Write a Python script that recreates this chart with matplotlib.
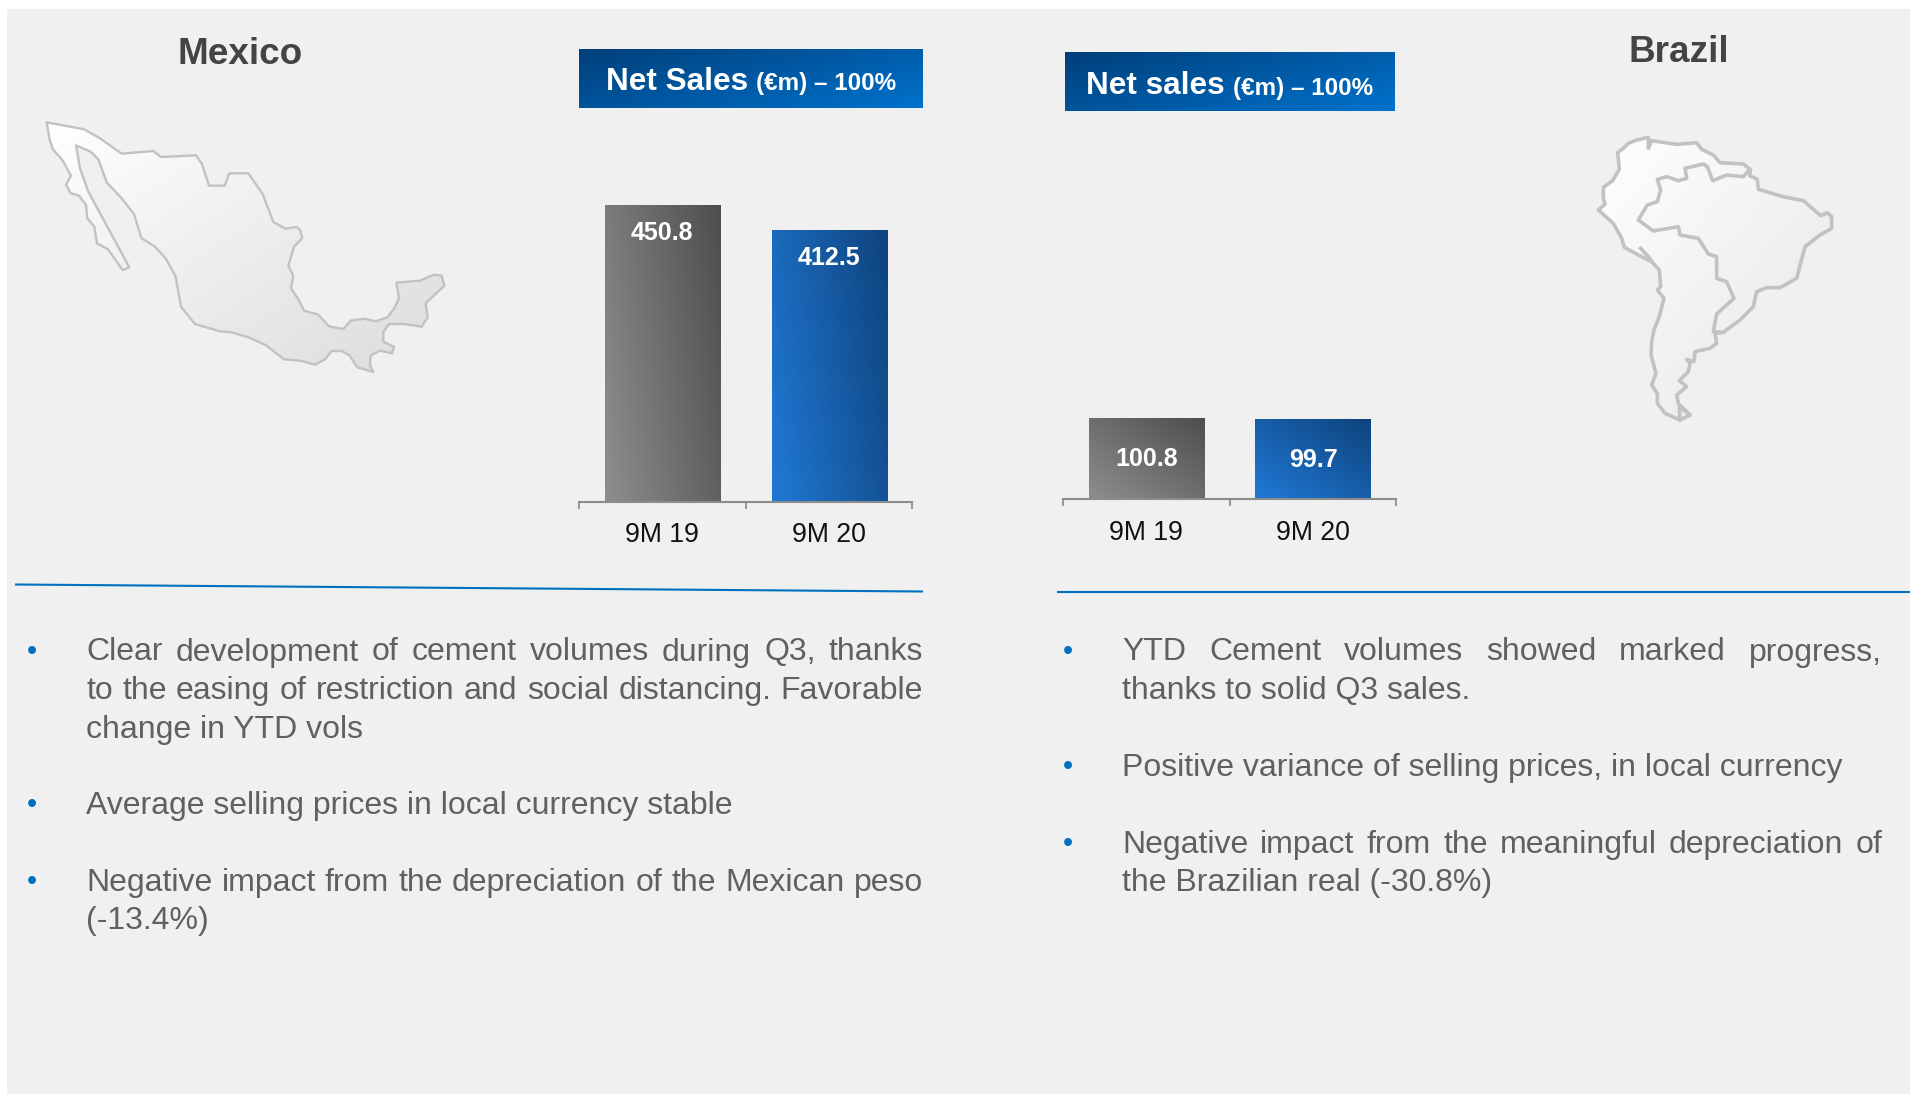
#!/usr/bin/env python3
# -*- coding: utf-8 -*-
import numpy as np
import matplotlib
matplotlib.use('Agg')
import matplotlib.pyplot as plt
from matplotlib.colors import LinearSegmentedColormap
from matplotlib.patches import Polygon, Rectangle

W, H = 1910, 1095
plt.rcParams['font.family'] = ['Liberation Sans', 'DejaVu Sans']

# data
periods = ['9M 19', '9M 20']
mexico_sales = [450.8, 412.5]
brazil_sales = [100.8, 99.7]

mexico_bullets = [
    ['Clear development of cement volumes during Q3, thanks',
     'to the easing of restriction and social distancing. Favorable',
     'change in YTD vols'],
    ['Average selling prices in local currency stable'],
    ['Negative impact from the depreciation of the Mexican peso',
     '(-13.4%)'],
]
brazil_bullets = [
    ['YTD Cement volumes showed marked progress,',
     'thanks to solid Q3 sales.'],
    ['Positive variance of selling prices, in local currency'],
    ['Negative impact from the meaningful depreciation of',
     'the Brazilian real (-30.8%)'],
]
# baselines of each text line (px)
mexico_baselines = [[660.5, 699, 738], [814], [891, 929]]
brazil_baselines = [[660.5, 699], [776], [853, 891]]

# map outlines, traced at 3x
mexico_outline = [(140,127),(253,148),(300,175),(365,221),(460,213),(483,231),(588,226),(606,252),
    (627,317),(674,317),(688,280),(745,280),(788,342),(820,426),(857,446),(890,441),(900,450),
    (907,474),(882,500),(865,557),(880,588),(873,625),(895,658),(912,692),(955,704),(987,739),
    (1030,747),(1052,722),(1092,716),(1128,724),(1162,712),(1183,685),(1197,654),(1189,608),
    (1260,602),(1302,584),(1325,587),(1333,617),(1277,670),(1283,712),(1265,740),(1213,732),
    (1168,732),(1150,755),(1150,785),(1182,800),(1176,820),(1140,812),(1112,826),(1110,855),
    (1120,876),(1072,862),(1048,826),(1025,813),(995,813),(975,838),(945,854),(900,842),(852,838),
    (797,795),(745,772),(695,757),(660,754),(585,732),(543,680),(527,590),(497,535),(465,500),
    (424,474),(402,402),(365,355),(320,307),(295,238),(272,215),(228,196),(240,265),(265,335),
    (388,562),(368,570),(323,507),(291,490),(283,440),(262,415),(258,375),(237,347),(212,340),
    (198,314),(213,287),(187,240),(158,207),(148,175)]
samerica_outline = [(235,82),(200,90),(175,100),(160,115),(143,128),(148,178),(128,212),(100,232),
    (100,265),(105,282),(85,300),(130,340),(155,385),(163,412),(215,440),(245,455),(268,480),
    (272,530),(262,540),(282,565),(268,620),(252,660),(245,695),(243,735),(258,790),(245,825),
    (262,850),(262,880),(285,910),(330,930),(360,915),(335,890),(325,880),(320,855),(350,830),
    (328,812),(355,785),(360,760),(350,748),(372,755),(375,725),(420,715),(440,700),(435,670),
    (460,667),(510,630),(550,590),(560,545),(590,533),(630,533),(680,505),(705,410),(750,375),
    (785,355),(785,320),(772,308),(752,317),(700,272),(640,260),(565,238),(562,208),(540,198),
    (540,178),(520,162),(450,158),(430,135),(395,118),(380,98),(320,103),(245,92),(235,115)]
brazil_border = [(540,178),(520,200),(470,195),(428,212),(412,170),(400,162),(345,175),(350,205),
    (325,212),(290,200),(262,208),(272,240),(262,275),(232,285),(205,330),(250,363),(325,350),
    (330,375),(385,385),(415,432),(440,440),(440,505),(470,515),(492,565),(440,612),(430,665),(460,667)]
chile_sliver = [(212,415),(235,440),(250,460)]
fuego = [(330,930),(328,890),(360,915)]

PANEL = '#f0f0f0'
BLUE = '#0070c0'
BODY = '#5f6062'

gray_cmap = LinearSegmentedColormap.from_list('g', ['#8e8e8e', '#4e4e4e'])
blue_cmap = LinearSegmentedColormap.from_list('b', ['#2079d6', '#0e437c'])
head_cmap = LinearSegmentedColormap.from_list('h', ['#003f7a', '#0072cc'])


def grad(ax, x0, x1, y0, y1, cmap, kx, ky, clip, vmin=0, vmax=1):
    # diagonal fill, clipped by a patch. t grows from (x0,y0) to (x1,y1)
    xx, yy = np.meshgrid(np.linspace(0, 1, 120), np.linspace(0, 1, 120))
    t = kx*xx + ky*yy
    im = ax.imshow(t, extent=(x0, x1, y0, y1), origin='lower', cmap=cmap, vmin=vmin, vmax=vmax,
                   aspect='auto', zorder=clip.get_zorder(), interpolation='bilinear')
    im.set_clip_path(clip)


fig = plt.figure(figsize=(W/100, H/100), dpi=100, facecolor='white')
bg = fig.add_axes([0, 0, 1, 1])
bg.set_axis_off()
bg.add_patch(Rectangle((7, 9), W-7, 1085, fc=PANEL, ec='none', zorder=0))


def draw_map(outline, ox, oy, lw, k, extra=()):
    pts = np.array(outline)/3.0 + [ox, oy]
    poly = Polygon(pts, closed=True, fc='none', ec='#c2c2c2', lw=lw, joinstyle='round', zorder=3)
    bg.add_patch(poly)
    clip = Polygon(pts, closed=True, fc='none', ec='none', zorder=2)
    bg.add_patch(clip)
    grad(bg, pts[:, 0].min(), pts[:, 0].max(), pts[:, 1].min(), pts[:, 1].max(),
         LinearSegmentedColormap.from_list('m', ['#ffffff', k]), 0.5, 0.5, clip)
    for seg in extra:
        s = np.array(seg)/3.0 + [ox, oy]
        bg.plot(s[:, 0], s[:, 1], color='#c2c2c2', lw=lw, zorder=3, solid_joinstyle='round')


draw_map(mexico_outline, 0, 80, 1.7, '#dcdcdc')
draw_map(samerica_outline, 1570, 110, 2.6, '#e6e6e6', [brazil_border, chile_sliver, fuego])

# titles
bg.text(177, 64, 'Mexico', fontsize=26.6, fontweight='bold', color='#444444', zorder=5)
bg.text(1628, 62.5, 'Brazil', fontsize=26.6, fontweight='bold', color='#444444', zorder=5)


def header(x0, x1, y0, y1, tx, by, word, end):
    r = Rectangle((x0, y0), x1-x0, y1-y0, fc='none', ec='none', zorder=2)
    bg.add_patch(r)
    grad(bg, x0, x1, y0, y1, head_cmap, 0.6, 0.4, r)
    bg.text(tx, by, word, fontsize=22.7, fontweight='bold', color='white', zorder=5)
    bg.text(end, by, '(€m) – 100%', fontsize=17.5, fontweight='bold', color='white', ha='right', zorder=5)


header(579, 922.5, 49, 108, 606, 90, 'Net Sales', 896)
header(1065, 1395, 52, 111, 1086, 94.5, 'Net sales', 1373)

# separators
bg.plot([15, 923], [584.5, 591.5], color=BLUE, lw=1.5, solid_capstyle='butt', zorder=3)
bg.plot([1057, 1910], [591.5, 591.5], color=BLUE, lw=1.5, solid_capstyle='butt', zorder=3)

bg.set_xlim(0, W)
bg.set_ylim(H, 0)


def bar_panel(left, right, base, px_per_unit, values, xpos, kx, ky, label_off, lab_pad):
    top = 500
    height = top*px_per_unit
    ax = fig.add_axes([left/W, 1-base/H, (right-left)/W, height/H])
    ax.patch.set_alpha(0)
    bars = ax.bar(xpos, values, width=0.692, color='none', zorder=2)
    for b, cm in zip(bars, [gray_cmap, blue_cmap]):
        grad(ax, b.get_x(), b.get_x()+b.get_width(), 0, b.get_height(), cm, kx, ky, b)
    for b, v in zip(bars, values):
        ax.annotate(f'{v}', (b.get_x()+b.get_width()/2, v), xytext=(0, -label_off), textcoords='offset pixels',
                    ha='center', va='baseline', color='white', fontsize=18, fontweight='bold', zorder=5)
    ax.set_xlim(0, 2)
    ax.set_ylim(0, top)
    for s in ['top', 'left', 'right']:
        ax.spines[s].set_visible(False)
    ax.spines['bottom'].set_color('#8c8c8c')
    ax.spines['bottom'].set_linewidth(1.5)
    ax.set_yticks([])
    ax.set_xticks([0, 1, 2])
    ax.set_xticklabels([])
    ax.tick_params(axis='x', which='major', length=5, width=1.5, color='#9a9a9a')
    ax.set_xticks(xpos, periods, minor=True)
    ax.tick_params(axis='x', which='minor', length=0, pad=lab_pad, labelsize=19.2, labelcolor='#111111')
    return ax


bar_panel(579, 912, 502, 0.6588, mexico_sales, [0.5, 1.504], 0.72, 0.28, 35, 14.5)
bar_panel(1063, 1396, 499, 0.80, brazil_sales, [0.5, 1.502], 0.5, 0.5, 48, 15)


def justified(x0, x1, y, line, just):
    if not just:
        bg.text(x0, y, line, fontsize=FS, color=BODY, zorder=5)
        return
    r = fig.canvas.get_renderer()
    words = line.split()
    ts = [bg.text(x0, y, w, fontsize=FS, color=BODY, zorder=5) for w in words]
    widths = [t.get_window_extent(r).width for t in ts]
    gap = (x1-x0-sum(widths))/(len(words)-1)
    x = x0
    for t, wd in zip(ts, widths):
        t.set_x(x)
        x += wd + gap


FS = 23
JUST = {'Clear development of cement volumes during Q3, thanks', 'to the easing of restriction and social distancing. Favorable',
        'Negative impact from the depreciation of the Mexican peso', 'YTD Cement volumes showed marked progress,',
        'Negative impact from the meaningful depreciation of'}


def body(blocks, baselines, x0, x1, bx):
    for lines, ys in zip(blocks, baselines):
        bg.text(bx, ys[0]-1, '•', fontsize=21, color=BLUE, ha='center', va='baseline', zorder=5)
        for line, y in zip(lines, ys):
            justified(x0, x1, y, line, line in JUST)


body(mexico_bullets, mexico_baselines, 86, 923, 31.5)
body(brazil_bullets, brazil_baselines, 1122, 1882, 1068)

fig.savefig('out.png', dpi=100, facecolor='white')
